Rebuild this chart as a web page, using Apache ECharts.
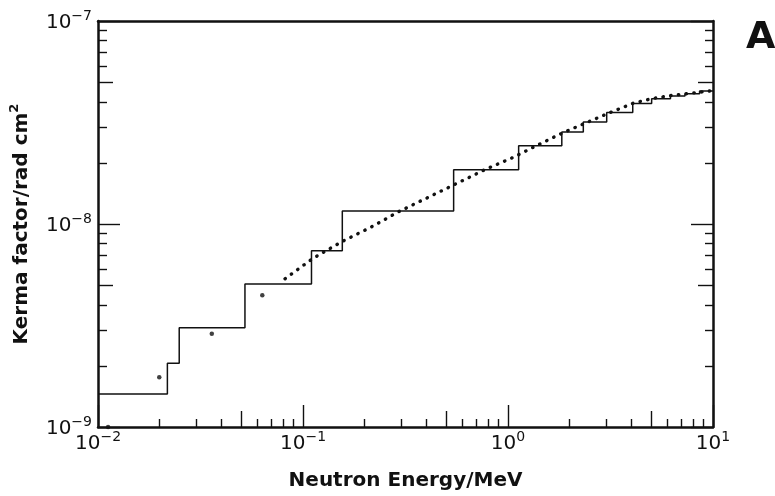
<!DOCTYPE html>
<html>
<head>
<meta charset="utf-8">
<script src="https://cdn.jsdelivr.net/npm/echarts@6/dist/echarts.min.js"></script>
<style>
  html, body { margin: 0; padding: 0; background: #fff; }
  #main { width: 775px; height: 496px; }
</style>
</head>
<body>
<div id="main"></div>
<script>
// step histogram (group boundaries in MeV, kerma per group)
var stepEdges = [0.01, 0.0218, 0.0249, 0.0521, 0.110, 0.1555, 0.543, 1.127, 1.83, 2.33, 3.03, 4.06, 5.02, 6.2, 7.3, 8.6, 10];
var stepLevels = [1.455e-9, 2.06e-9, 3.08e-9, 5.06e-9, 7.39e-9, 1.16e-8, 1.85e-8, 2.43e-8, 2.84e-8, 3.18e-8, 3.54e-8, 3.92e-8, 4.14e-8, 4.27e-8, 4.38e-8, 4.52e-8];

// dotted curve
var curveE = [0.0817, 0.112, 0.1545, 0.212, 0.292, 0.531, 0.787, 1.062, 1.33, 1.86, 2.42, 3.15, 4.07, 5.0, 6.3, 8.0, 9.4, 10];
var curveK = [5.37e-9, 6.78e-9, 8.18e-9, 9.58e-9, 1.148e-8, 1.54e-8, 1.87e-8, 2.13e-8, 2.39e-8, 2.82e-8, 3.16e-8, 3.54e-8, 3.93e-8, 4.14e-8, 4.30e-8, 4.42e-8, 4.51e-8, 4.54e-8];

// single points at low energy
var dotE = [0.0112, 0.0199, 0.0359, 0.0633];
var dotK = [1.0e-9, 1.756e-9, 2.88e-9, 4.46e-9];

// ticks
var xMajor = [0.01, 0.1, 1, 10];
var xMid = [0.05, 0.5, 5];
var xMinor = [0.02, 0.03, 0.04, 0.06, 0.07, 0.08, 0.09, 0.2, 0.3, 0.4, 0.6, 0.7, 0.8, 0.9, 2, 3, 4, 6, 7, 8, 9];
var yMajor = [1e-9, 1e-8, 1e-7];
var yMid = [5e-9, 5e-8];
var yMinor = [2e-9, 3e-9, 4e-9, 6e-9, 7e-9, 8e-9, 9e-9, 2e-8, 3e-8, 4e-8, 6e-8, 7e-8, 8e-8, 9e-8];

var ink = '#111';
var font = 'DejaVu Sans';

var stepData = [];
for (var i = 0; i < stepLevels.length; i++) {
  stepData.push([stepEdges[i], stepLevels[i]]);
}
stepData.push([stepEdges[stepEdges.length - 1], stepLevels[stepLevels.length - 1]]);

var curveData = curveE.map(function (e, i) { return [e, curveK[i]]; });
var dotData = dotE.map(function (e, i) { return [e, dotK[i]]; });

var powLabel = function (v) {
  var p = Math.round(Math.log10(v));
  return '{b|10}{s|' + String(p).replace('-', '\u2212') + '}';
};
var powRich = {
  b: { fontFamily: font, fontSize: 20, color: ink, lineHeight: 24, verticalAlign: 'bottom' },
  s: { fontFamily: font, fontSize: 14, color: ink, lineHeight: 14, verticalAlign: 'top' }
};

// one axis per tick length (all share the same scale)
var makeAxis = function (kind, pos, ticks, len, opts) {
  var ax = {
    type: 'log', logBase: 10,
    min: kind == 'x' ? 0.01 : 1e-9,
    max: kind == 'x' ? 10 : 1e-7,
    position: pos,
    axisLine: { show: false, onZero: false },
    axisLabel: { show: false },
    splitLine: { show: false },
    axisTick: {
      show: ticks != null, inside: true, length: len,
      customValues: ticks || undefined,
      lineStyle: { color: ink, width: 1.4 }
    }
  };
  return Object.assign(ax, opts || {});
};

var lineOn = { show: true, onZero: false, lineStyle: { color: ink, width: 2.5 } };

var xAxes = [
  makeAxis('x', 'bottom', xMajor, 22, {
    axisLine: lineOn,
    axisLabel: { show: true, margin: 3, customValues: xMajor, formatter: powLabel, rich: powRich },
    name: 'Neutron Energy/MeV',
    nameLocation: 'middle',
    nameGap: 44,
    nameTextStyle: { fontFamily: font, fontSize: 20, fontWeight: 'bold', color: ink }
  }),
  makeAxis('x', 'bottom', xMid, 16),
  makeAxis('x', 'bottom', xMinor, 8),
  makeAxis('x', 'top', null, 0, { axisLine: lineOn })
];

var yAxes = [
  makeAxis('y', 'left', yMajor, 22, {
    axisLine: lineOn,
    axisLabel: { show: true, margin: 6, customValues: yMajor, formatter: powLabel, rich: powRich },
    name: '{a|Kerma factor/rad cm}{s|2}',
    nameLocation: 'middle',
    nameGap: 66,
    nameTextStyle: {
      rich: {
        a: { fontFamily: font, fontSize: 20, fontWeight: 'bold', color: ink, lineHeight: 24, verticalAlign: 'bottom' },
        s: { fontFamily: font, fontSize: 13, fontWeight: 'bold', color: ink, lineHeight: 14, verticalAlign: 'top' }
      }
    }
  }),
  makeAxis('y', 'left', yMid, 15),
  makeAxis('y', 'left', yMinor, 9),
  makeAxis('y', 'right', yMajor, 22, { axisLine: lineOn }),
  makeAxis('y', 'right', yMid, 15),
  makeAxis('y', 'right', yMinor, 8)
];

var myChart = echarts.init(document.getElementById('main'), null, { renderer: 'canvas' });
var option = {
  animation: false,
  backgroundColor: '#fff',
  grid: { left: 98, right: 62, top: 21, bottom: 66 },
  xAxis: xAxes,
  yAxis: yAxes,
  graphic: [{
    type: 'text', left: 746, top: 19,
    style: { text: 'A', fontFamily: font, fontSize: 38, fontWeight: 'bold', fill: ink }
  }],
  series: [
    {
      name: 'groups', type: 'line', step: 'end',
      xAxisIndex: 0, yAxisIndex: 0,
      data: stepData, showSymbol: false, symbol: 'none',
      lineStyle: { color: ink, width: 1.5 }
    },
    {
      name: 'curve', type: 'line',
      xAxisIndex: 0, yAxisIndex: 0,
      data: curveData, showSymbol: false, symbol: 'none', smooth: false,
      lineStyle: { color: ink, width: 3.4, type: [0.4, 7.4], cap: 'round' }
    },
    {
      name: 'points', type: 'scatter',
      xAxisIndex: 0, yAxisIndex: 0,
      data: dotData, symbolSize: 4.5, clip: false,
      itemStyle: { color: ink }
    }
  ]
};
myChart.setOption(option);
</script>
</body>
</html>
